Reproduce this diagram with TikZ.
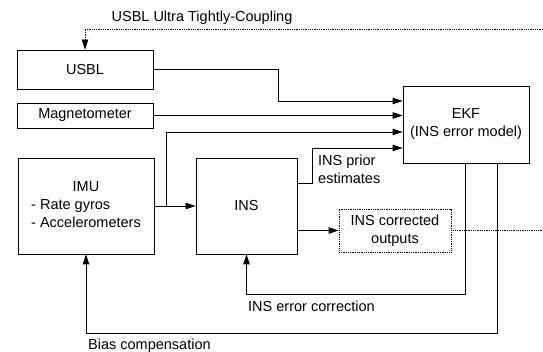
\documentclass[tikz,border=0pt]{standalone}
\usepackage{fontspec}
\setmainfont{Liberation Sans}
\usetikzlibrary{arrows.meta}

\begin{document}
\begin{tikzpicture}[x=1pt, y=-1pt,
    font=\fontsize{14.5}{18}\selectfont,
    box/.style={draw, line width=0.8pt, inner sep=0pt, align=center},
    dotbox/.style={box, densely dotted},
    arr/.style={line width=0.8pt, -{Triangle[length=10pt, width=6.5pt]}},
    dots/.style={line width=0.8pt, densely dotted},
    lbl/.style={inner sep=0pt, anchor=west, align=left}]

    \useasboundingbox (0,0) rectangle (543,352);

    % blocks
    \node[box, minimum width=136pt, minimum height=39pt] (USBL) at (85,69.5) {USBL};
    \node[box, minimum width=136pt, minimum height=25pt] (Mag) at (85,115.5) {Magnetometer};
    \node[box, minimum width=136pt, minimum height=96pt] (IMU) at (86,206)
        {\begin{tabular}{@{}l@{}}\multicolumn{1}{@{}c@{}}{IMU}\\- Rate gyros\\- Accelerometers\end{tabular}};
    \node[box, minimum width=101pt, minimum height=96pt] (INS) at (246.5,206) {INS};
    \node[box, minimum width=126pt, minimum height=77pt] (EKF) at (466,124.5) {EKF\\(INS error model)};
    \node[dotbox, minimum width=112pt, minimum height=43pt] (Corr) at (395,230.5) {INS corrected\\outputs};

    % ultra tight coupling
    \coordinate (tcEnd) at (543,29);
    \node (tcLabel) at (202,18) {USBL Ultra Tightly-Coupling};
    \draw[arr, dots] (tcEnd) -| (USBL.north);

    % measurements to EKF
    \draw[arr] (USBL.east) -- ++(125,0) |- ([yshift=23.5pt]EKF.west);
    \draw[arr] (Mag.east) -- (Mag.east -| EKF.west);
    \draw[arr] (IMU) -- (INS);
    \draw[arr] ([xshift=12pt]IMU.east) |- ([yshift=-7.5pt]EKF.west);
    \draw[arr] ([yshift=23pt]INS.east) -- ++(15,0) |- ([yshift=-23.5pt]EKF.west);
    \node[lbl] (prior) at (318,169) {INS prior\\estimates};

    % outputs
    \coordinate (outEnd) at (543,230.5);
    \draw[arr] (INS.east |- Corr.west) -- (Corr.west);
    \draw[dots] (Corr.east) -- (outEnd);

    % feedback
    \draw[arr] ([xshift=-1pt]EKF.south) -- ++(0,131) -| (INS.south);
    \node[lbl] (errLabel) at (248,306) {INS error correction};
    \draw[arr] ([xshift=31pt]EKF.south) -- ++(0,170) -| (IMU.south);
    \node[lbl] (biasLabel) at (88,346) {Bias compensation};

\end{tikzpicture}
\end{document}
